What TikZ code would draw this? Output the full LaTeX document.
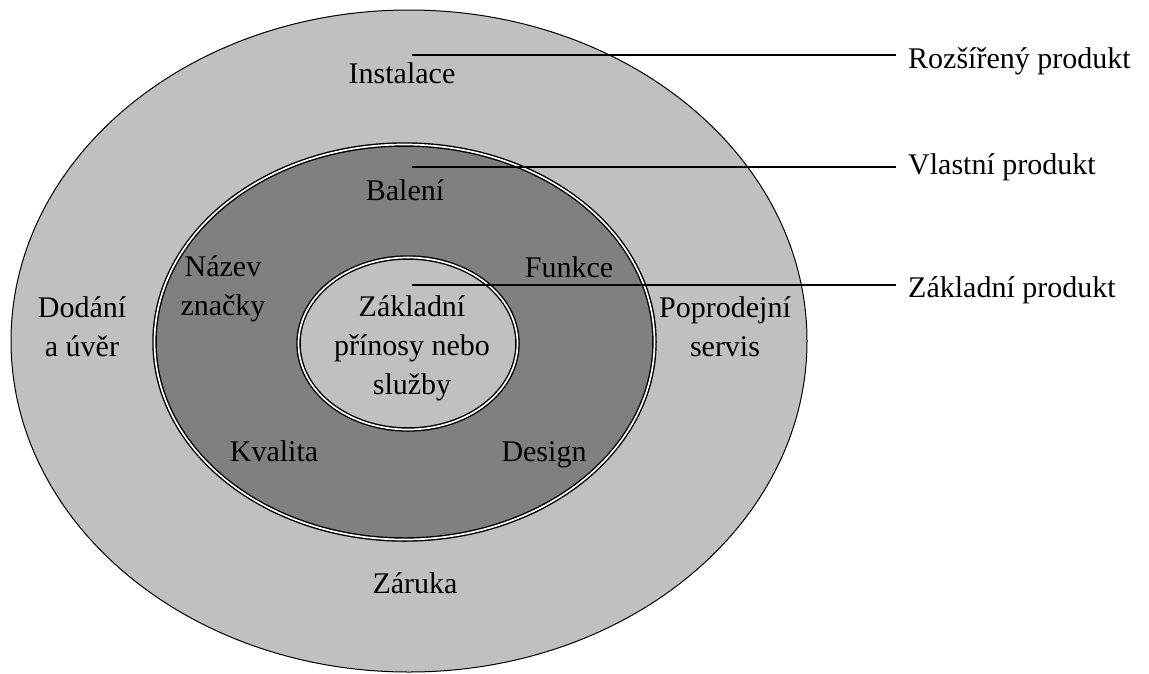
\documentclass[tikz,border=0pt]{standalone}
\usepackage{fontspec}
\setmainfont{Liberation Serif}
\definecolor{lightg}{RGB}{192,192,192}
\definecolor{darkg}{RGB}{128,128,128}
\begin{document}
\begin{tikzpicture}[x=1pt,y=-1pt,
  lbl/.style={font=\fontsize{30}{39}\selectfont, inner sep=0pt, anchor=base, align=center},
  ring/.style={draw=black, line width=1.4pt, double=white, double distance=1.7pt},
  leader/.style={draw=black, line width=1.1pt}]
\useasboundingbox (0,0) rectangle (1149,673);
\fill[white] (0,0) rectangle (1149,673);
% rings
\draw[fill=lightg, line width=1pt] (409,341) ellipse [x radius=398, y radius=331];
\path[fill=darkg] (404.5,342) ellipse [x radius=250, y radius=197.5];
\draw[ring] (404.5,342) ellipse [x radius=250, y radius=197.5];
\path[fill=lightg] (408,343.5) ellipse [x radius=109.5, y radius=86];
\draw[ring] (408,343.5) ellipse [x radius=109.5, y radius=86];
% labels inside
\node[lbl] (inst) at (402,83) {Instalace};
\node[lbl] (bal) at (405,200) {Balení};
\node[lbl] (naz) at (223,315) {Název\\značky};
\node[lbl] (fun) at (569,277) {Funkce};
\node[lbl] (zak) at (412,394) {Základní\\přínosy nebo\\služby};
\node[lbl] (dod) at (82,356) {Dodání\\a úvěr};
\node[lbl] (pop) at (725,356) {Poprodejní\\servis};
\node[lbl] (kva) at (274,461) {Kvalita};
\node[lbl] (des) at (544,461) {Design};
\node[lbl] (zar) at (415,593) {Záruka};
% right labels
\node[lbl, anchor=base west, inner xsep=12pt] (rRoz) at (896,68) {Rozšířený produkt};
\node[lbl, anchor=base west, inner xsep=12pt] (rVla) at (896,174) {Vlastní produkt};
\node[lbl, anchor=base west, inner xsep=12pt] (rZak) at (896,297) {Základní produkt};
% leaders
\coordinate (s1) at (412,55);
\coordinate (s2) at (412,167);
\coordinate (s3) at (412,285);
\draw[leader] (s1) -- (s1 -| rRoz.west);
\draw[leader] (s2) -- (s2 -| rVla.west);
\draw[leader] (s3) -- (s3 -| rZak.west);
\end{tikzpicture}
\end{document}
